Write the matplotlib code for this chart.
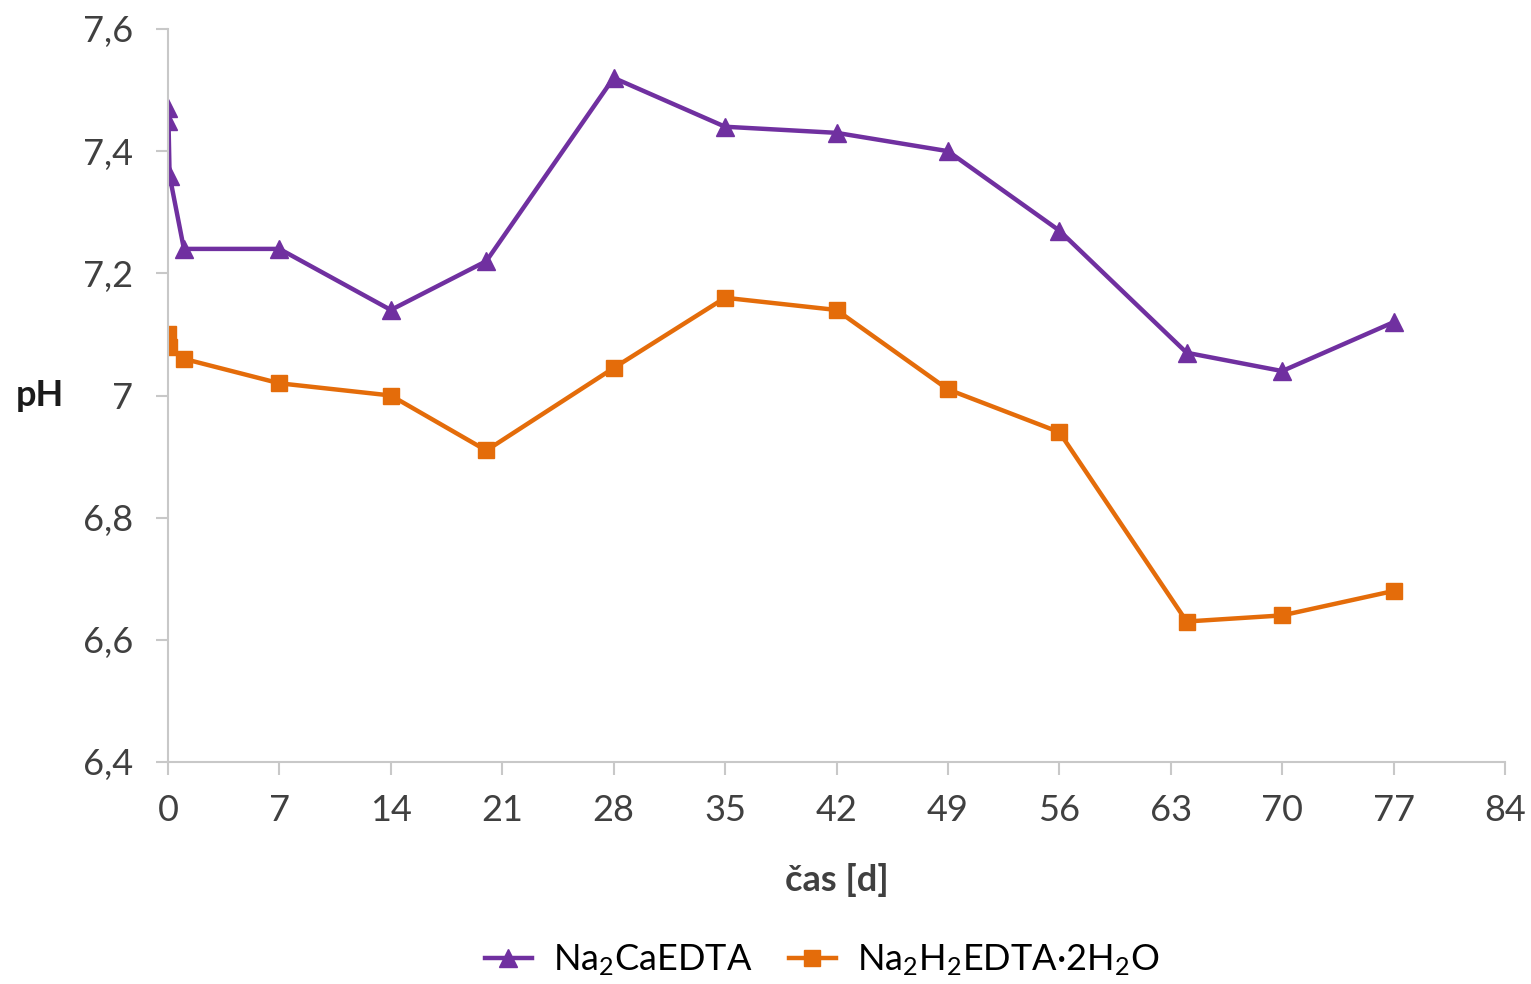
import matplotlib
matplotlib.use("Agg")
import matplotlib.pyplot as plt
from matplotlib.ticker import FuncFormatter, MultipleLocator

plt.rcParams.update({
    "font.family": ["Lato", "DejaVu Sans"],
    "mathtext.fontset": "custom",
    "mathtext.rm": "Lato",
    "mathtext.it": "Lato:italic",
    "mathtext.bf": "Lato:bold",
})

# data
t_ca = [0, 0.03, 0.1, 1, 7, 14, 20, 28, 35, 42, 49, 56, 64, 70, 77]
ph_ca = [7.47, 7.45, 7.36, 7.24, 7.24, 7.14, 7.22, 7.52, 7.44, 7.43, 7.40, 7.27, 7.07, 7.04, 7.12]

t_h2 = [0, 0.05, 1, 7, 14, 20, 28, 35, 42, 49, 56, 64, 70, 77]
ph_h2 = [7.10, 7.08, 7.06, 7.02, 7.00, 6.91, 7.045, 7.16, 7.14, 7.01, 6.94, 6.63, 6.64, 6.68]

label_ca = "Na$_2$CaEDTA"
label_h2 = "Na$_2$H$_2$EDTA·2H$_2$O"

purple = "#7030A0"
orange = "#E46C0A"
gray = "#C8C8C8"

fig = plt.figure(figsize=(15.31, 9.84), dpi=100)
ax = fig.add_axes([168 / 1531, 1 - 762 / 984, 1337 / 1531, 733 / 984])

ax.plot(t_ca, ph_ca, color=purple, lw=3.2, marker="^", ms=13, label=label_ca)
ax.plot(t_h2, ph_h2, color=orange, lw=3.2, marker="s", ms=11, label=label_h2)

ax.set_xlim(0, 84)
ax.set_ylim(6.4, 7.6)
ax.xaxis.set_major_locator(MultipleLocator(7))
ax.yaxis.set_major_locator(MultipleLocator(0.2))


def comma(v, pos):
    s = f"{v:.1f}".replace(".", ",")
    return s[:-2] if s.endswith(",0") else s


ax.yaxis.set_major_formatter(FuncFormatter(comma))

for side in ("top", "right"):
    ax.spines[side].set_visible(False)
for side in ("left", "bottom"):
    ax.spines[side].set_color(gray)
    ax.spines[side].set_linewidth(1.5)
ax.tick_params(axis="both", colors=gray, length=9, width=1.5, labelsize=26,
               labelcolor="#404040")
ax.tick_params(axis="x", pad=14)
ax.tick_params(axis="y", pad=16)

ax.set_xlabel("čas [d]", fontsize=26, fontweight="bold", color="#404040", labelpad=26)
ax.set_ylabel("pH", fontsize=26, fontweight="bold", color="#1a1a1a", rotation=0,
              va="center", ha="center")
ax.yaxis.set_label_coords(-0.096, 0.5)

fig.legend(loc="center", bbox_to_anchor=(0.537, 1 - 960 / 984), ncol=2, frameon=False,
           fontsize=26, handlelength=1.3, columnspacing=1.0, handletextpad=0.6)

fig.savefig("out.png", dpi=100)
